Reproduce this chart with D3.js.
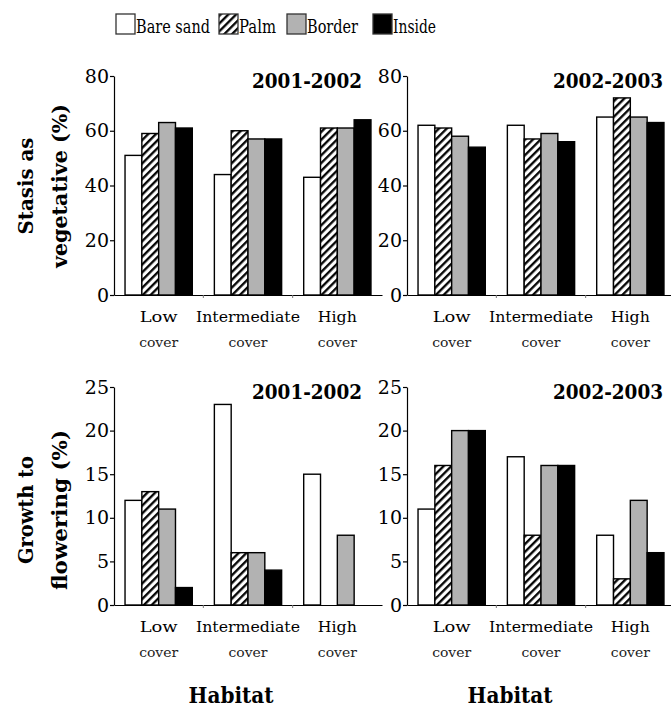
<!DOCTYPE html>
<html>
<head>
<meta charset="utf-8">
<script src="https://cdn.jsdelivr.net/npm/d3@7"></script>
<style>
	body { margin: 0; background: #fff; }
</style>
</head>
<body>
<script>
'use strict';

// Habitat groups on the x axis and the four microhabitat series.
const habitats = ["Low cover", "Intermediate cover", "High cover"];
const seriesNames = ["Bare sand", "Palm", "Border", "Inside"];

// Values per habitat, in series order (Bare sand, Palm, Border, Inside).
const stasis0102 = [[51, 59, 63, 61], [44, 60, 57, 57], [43, 61, 61, 64]];
const stasis0203 = [[62, 61, 58, 54], [62, 57, 59, 56], [65, 72, 65, 63]];
const flower0102 = [[12, 13, 11, 2], [23, 6, 6, 4], [15, 0, 8, 0]];
const flower0203 = [[11, 16, 20, 20], [17, 8, 16, 16], [8, 3, 12, 6]];

const stasisTicks = [0, 20, 40, 60, 80];
const flowerTicks = [0, 5, 10, 15, 20, 25];
const periods = ["2001-2002", "2002-2003"];

// Only DejaVu Serif resolves as a serif face here.
const serif = "font-family: 'DejaVu Serif', serif";

// Measured widths of a few labels in the original, used to fit the wider font.
const labelWidths = { "Bare sand": 74, "Palm": 37, "Border": 51, "Inside": 43,
	"Low": 38, "Intermediate": 104, "High": 39, "cover": 39 };

const svg = d3.select("body").append("svg")
	.attr("width", 671)
	.attr("height", 709)
	.attr("style", serif);

// Diagonal hatch used for the Palm series.
let pattern = svg.append("defs").append("pattern")
	.attr("id", "hatch")
	.attr("patternUnits", "userSpaceOnUse")
	.attr("width", 5.5)
	.attr("height", 5.5)
	.attr("patternTransform", "rotate(45)");
pattern.append("rect").attr("width", 5.5).attr("height", 5.5).attr("fill", "#fff");
pattern.append("line")
	.attr("x1", 1.2).attr("y1", 0).attr("x2", 1.2).attr("y2", 5.5)
	.attr("stroke", "#000").attr("stroke-width", 2.3);

const fills = d3.scaleOrdinal()
	.domain(seriesNames)
	.range(["#fff", "url(#hatch)", "#b2b2b2", "#000"]);

// Legend across the top.
const legendX = [116, 219, 287, 373];
let legend = svg.append("g");
seriesNames.forEach(function(name, i) {
	legend.append("rect")
		.attr("x", legendX[i]).attr("y", 14)
		.attr("width", 19).attr("height", 20)
		.attr("fill", fills(name))
		.attr("stroke", "#333").attr("stroke-width", 1.3);
	legend.append("text")
		.attr("x", legendX[i] + 20).attr("y", 33)
		.attr("style", serif)
		.attr("font-size", 19)
		.attr("textLength", labelWidths[name])
		.attr("lengthAdjust", "spacingAndGlyphs")
		.text(name);
});

// Draws one bar panel. left is the y axis position, yBase the x axis position.
function DrawPanel(data, ticks, maxVal, left, yBase, yTop, title, titleX)
{
	let g = svg.append("g");
	let width = 268;

	let x0 = d3.scaleBand()
		.domain(habitats)
		.range([left, left + width])
		.paddingInner(0.247)
		.paddingOuter(0.1235);
	let x1 = d3.scaleBand()
		.domain(seriesNames)
		.range([0, x0.bandwidth()]);
	let y = d3.scaleLinear()
		.domain([0, maxVal])
		.range([yBase, yTop]);

	// Bars (zero values draw nothing).
	habitats.forEach(function(h, hi) {
		g.append("g")
			.attr("transform", "translate(" + x0(h) + ",0)")
			.selectAll("rect")
			.data(data[hi].map(function(v, si) { return { name: seriesNames[si], value: v }; })
				.filter(function(d) { return d.value > 0; }))
			.enter()
			.append("rect")
			.attr("x", function(d) { return x1(d.name); })
			.attr("y", function(d) { return y(d.value); })
			.attr("width", x1.bandwidth())
			.attr("height", function(d) { return yBase - y(d.value); })
			.attr("fill", function(d) { return fills(d.name); })
			.attr("stroke", "#000")
			.attr("stroke-width", 1.4);
	});

	// Y axis
	let yAxis = g.append("g")
		.attr("transform", "translate(" + left + ",0)")
		.call(d3.axisLeft(y).tickValues(ticks).tickSize(4).tickPadding(1).tickSizeOuter(0));
	yAxis.attr("font-family", null);
	yAxis.selectAll("text")
		.attr("style", serif)
		.attr("font-size", 19)
		.attr("fill", "#000");
	yAxis.selectAll("line, path").attr("stroke", "#000").attr("stroke-width", 1.2);

	// X axis: line, small separator ticks, two-line labels.
	let xAxis = g.append("g")
		.attr("transform", "translate(0," + yBase + ")")
		.call(d3.axisBottom(x0).tickSize(0).tickSizeOuter(0).tickFormat(""));
	xAxis.select(".domain").attr("stroke", "#000").attr("stroke-width", 1.2);
	for (let i = 1; i < habitats.length; i++)
	{
		let bx = left + x0.step() * i;
		xAxis.append("line")
			.attr("x1", bx).attr("x2", bx)
			.attr("y1", 0).attr("y2", 3)
			.attr("stroke", "#777");
	}
	habitats.forEach(function(h) {
		let parts = h.split(" ");
		let cx = x0(h) + x0.bandwidth() / 2;
		g.append("text")
			.attr("x", cx).attr("y", yBase + 27)
			.attr("text-anchor", "middle")
			.attr("style", serif)
			.attr("font-size", 15)
			.attr("textLength", labelWidths[parts[0]])
			.attr("lengthAdjust", "spacingAndGlyphs")
			.text(parts[0]);
		g.append("text")
			.attr("x", cx).attr("y", yBase + 52)
			.attr("text-anchor", "middle")
			.attr("style", serif)
			.attr("font-size", 13)
			.attr("textLength", labelWidths[parts[1]])
			.attr("lengthAdjust", "spacingAndGlyphs")
			.attr("fill", "#222")
			.text(parts[1]);
	});

	// Period title
	g.append("text")
		.attr("x", titleX).attr("y", yTop + 12)
		.attr("style", serif)
		.attr("font-size", 21)
		.attr("font-weight", "bold")
		.attr("textLength", 110)
		.attr("lengthAdjust", "spacingAndGlyphs")
		.text(title);
}

DrawPanel(stasis0102, stasisTicks, 80, 114, 295, 76, periods[0], 252);
DrawPanel(stasis0203, stasisTicks, 80, 407, 295, 76, periods[1], 553);
DrawPanel(flower0102, flowerTicks, 25, 114, 605, 387, periods[0], 252);
DrawPanel(flower0203, flowerTicks, 25, 407, 605, 387, periods[1], 553);

// Rotated y axis titles, two lines each.
function AxisTitle(lines, cy, lengths)
{
	let xs = [25, 59];
	lines.forEach(function(line, i) {
		svg.append("text")
			.attr("transform", "translate(" + (xs[i] + 8) + "," + cy + ") rotate(-90)")
			.attr("text-anchor", "middle")
			.attr("style", serif)
			.attr("font-size", 21)
			.attr("font-weight", "bold")
			.attr("textLength", lengths[i])
			.attr("lengthAdjust", "spacingAndGlyphs")
			.text(line);
	});
}
AxisTitle(["Stasis as", "vegetative (%)"], 186, [97, 164]);
AxisTitle(["Growth to", "flowering (%)"], 510, [108, 160]);

// Habitat labels under each column.
[231, 510].forEach(function(cx) {
	svg.append("text")
		.attr("x", cx).attr("y", 703)
		.attr("text-anchor", "middle")
		.attr("style", serif)
		.attr("font-size", 22)
		.attr("font-weight", "bold")
		.attr("textLength", 85)
		.attr("lengthAdjust", "spacingAndGlyphs")
		.text("Habitat");
});
</script>
</body>
</html>
